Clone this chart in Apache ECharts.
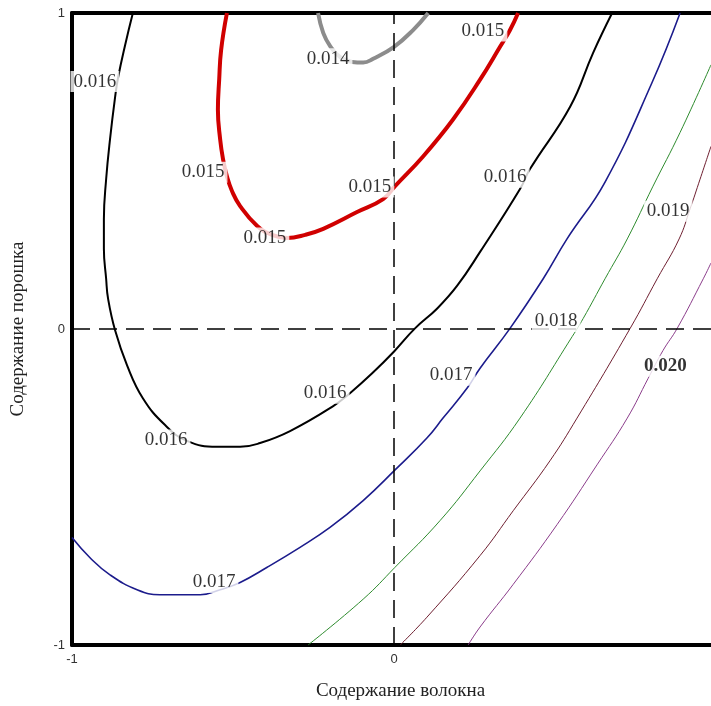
<!DOCTYPE html>
<html><head><meta charset="utf-8">
<script src="https://cdn.jsdelivr.net/npm/echarts@6/dist/echarts.min.js"></script>
<style>html,body{margin:0;padding:0;background:#fff}#c{width:711px;height:706px}</style>
</head><body><div id="c"></div>
<script>
// Axis extents / ticks
const xExtent = [-1, 0.984];
const yExtent = [-1, 1];
const xTitle = 'Содержание волокна';
const yTitle = 'Содержание порошка';

// Contour lines [x, y]
const c014 = [[-0.236,1.0],[-0.220,0.937],[-0.199,0.896],[-0.168,0.861],[-0.130,0.845],[-0.096,0.843],[-0.065,0.855],[0,0.893],[0.059,0.946],[0.106,1.0]];
const c015 = [[-0.519,1.0],[-0.537,0.883],[-0.543,0.789],[-0.547,0.694],[-0.540,0.600],[-0.531,0.537],[-0.519,0.483],[-0.503,0.436],[-0.478,0.389],[-0.425,0.326],[-0.379,0.298],[-0.332,0.288],[-0.276,0.298],[-0.220,0.317],[-0.115,0.370],[-0.034,0.411],[0.003,0.452],[0.090,0.546],[0.183,0.663],[0.267,0.789],[0.329,0.893],[0.360,0.946],[0.385,1.0]];
const c016 = [[-0.811,1.0],[-0.835,0.899],[-0.857,0.795],[-0.866,0.735],[-0.882,0.600],[-0.894,0.474],[-0.901,0.348],[-0.901,0.254],[-0.894,0.159],[-0.888,0.096],[-0.866,-0.005],[-0.829,-0.115],[-0.780,-0.219],[-0.711,-0.304],[-0.643,-0.354],[-0.550,-0.373],[-0.478,-0.373],[-0.416,-0.361],[-0.323,-0.323],[-0.189,-0.244],[-0.137,-0.203],[-0.068,-0.140],[0,-0.071],[0.065,0.002],[0.134,0.065],[0.196,0.137],[0.267,0.244],[0.391,0.443],[0.422,0.506],[0.547,0.704],[0.618,0.874],[0.677,1.0]];
const c017 = [[-1.0,-0.660],[-0.944,-0.724],[-0.882,-0.778],[-0.798,-0.825],[-0.727,-0.841],[-0.665,-0.841],[-0.602,-0.841],[-0.540,-0.825],[-0.478,-0.802],[-0.394,-0.754],[-0.292,-0.691],[-0.199,-0.628],[-0.096,-0.543],[0.003,-0.446],[0.102,-0.345],[0.152,-0.282],[0.227,-0.187],[0.267,-0.124],[0.360,0.002],[0.463,0.159],[0.537,0.285],[0.655,0.465],[0.801,0.780],[0.888,1.0]];
const c018 = [[-0.267,-1.0],[-0.096,-0.855],[0.003,-0.754],[0.143,-0.606],[0.267,-0.449],[0.391,-0.282],[0.553,-0.024],[0.587,0.033],[0.655,0.159],[0.724,0.285],[0.804,0.452],[0.888,0.622],[0.984,0.836]];
const c019 = [[0.019,-1.0],[0.102,-0.912],[0.267,-0.717],[0.370,-0.575],[0.484,-0.417],[0.568,-0.282],[0.733,0.002],[0.817,0.159],[0.885,0.285],[0.919,0.380],[0.950,0.474],[0.984,0.578]];
const c020 = [[0.230,-1.0],[0.267,-0.943],[0.370,-0.808],[0.506,-0.619],[0.630,-0.430],[0.724,-0.282],[0.789,-0.156],[0.835,-0.068],[0.879,0.002],[0.960,0.159],[0.984,0.209]];

const contourData = [c014, c015, c016, c017, c018, c019, c020];
const contourColors = ['#8c8c8c', '#d00000', '#000000', '#1c1c8c', '#2e8b2e', '#6e1f30', '#8b3d8b'];
const contourWidths = [4, 4, 2, 1.6, 1, 1, 1];

// Contour labels [x, y, text]
const contourLabels = [
  [-0.929, 0.783, '0.016'],
  [-0.593, 0.496, '0.015'],
  [-0.401, 0.288, '0.015'],
  [-0.205, 0.855, '0.014'],
  [-0.075, 0.449, '0.015'],
  [0.276, 0.943, '0.015'],
  [0.345, 0.480, '0.016'],
  [-0.214, -0.203, '0.016'],
  [-0.708, -0.351, '0.016'],
  [0.177, -0.146, '0.017'],
  [-0.559, -0.802, '0.017'],
  [0.503, 0.024, '0.018'],
  [0.851, 0.373, '0.019'],
  [0.842, -0.118, '0.020']
];
const boldLabels = ['0.020'];

const chart = echarts.init(document.getElementById('c'), null, {renderer: 'canvas'});

const series = contourData.map((d, i) => ({
  type: 'line',
  data: d,
  showSymbol: false,
  smooth: 0.45,
  z: 3,
  lineStyle: {color: contourColors[i], width: contourWidths[i]},
  silent: true
}));

series.push({
  type: 'line',
  data: [],
  z: 2,
  markLine: {
    silent: true,
    symbol: 'none',
    animation: false,
    label: {show: false},
    lineStyle: {color: '#000', width: 1.5, type: [18, 9]},
    data: [{xAxis: 0}, {yAxis: 0}]
  }
});

series.push({
  type: 'scatter',
  z: 10,
  symbolSize: 1,
  itemStyle: {color: 'rgba(0,0,0,0)'},
  silent: true,
  data: contourLabels.map(l => ({
    value: l,
    label: boldLabels.includes(l[2]) ? {fontWeight: 'bold'} : {}
  })),
  label: {
    show: true,
    position: 'inside',
    formatter: p => p.value[2],
    fontFamily: 'Liberation Serif',
    fontSize: 19,
    color: '#000',
    backgroundColor: '#fff',
    padding: [1, 3]
  }
});

const tickLabel = {
  fontFamily: 'Liberation Sans',
  fontSize: 13,
  color: '#333',
  formatter: v => (Number.isInteger(v) ? String(v) : '')
};

chart.setOption({
  animation: false,
  backgroundColor: '#fff',
  grid: {left: 72, right: 0, top: 13, bottom: 58, containLabel: false},
  xAxis: [{
    type: 'value', min: xExtent[0], max: xExtent[1], interval: 1, position: 'bottom',
    axisLine: {onZero: false, lineStyle: {color: '#000', width: 4}},
    axisTick: {show: false}, splitLine: {show: false},
    axisLabel: Object.assign({margin: 8, showMaxLabel: false}, tickLabel),
    name: xTitle, nameLocation: 'middle', nameGap: 37,
    nameTextStyle: {fontFamily: 'Liberation Serif', fontSize: 19, color: '#222', padding: [0, 0, 0, 18]}
  }, {
    type: 'value', min: xExtent[0], max: xExtent[1], position: 'top',
    axisLine: {show: true, onZero: false, lineStyle: {color: '#000', width: 4}},
    axisTick: {show: false}, splitLine: {show: false}, axisLabel: {show: false}
  }],
  yAxis: {
    type: 'value', min: yExtent[0], max: yExtent[1], interval: 1,
    axisLine: {onZero: false, lineStyle: {color: '#000', width: 4}},
    axisTick: {show: false}, splitLine: {show: false},
    axisLabel: Object.assign({margin: 7}, tickLabel),
    name: yTitle, nameLocation: 'middle', nameGap: 44,
    nameTextStyle: {fontFamily: 'Liberation Serif', fontSize: 19, color: '#222'}
  },
  series: series
});
</script>
</body></html>
